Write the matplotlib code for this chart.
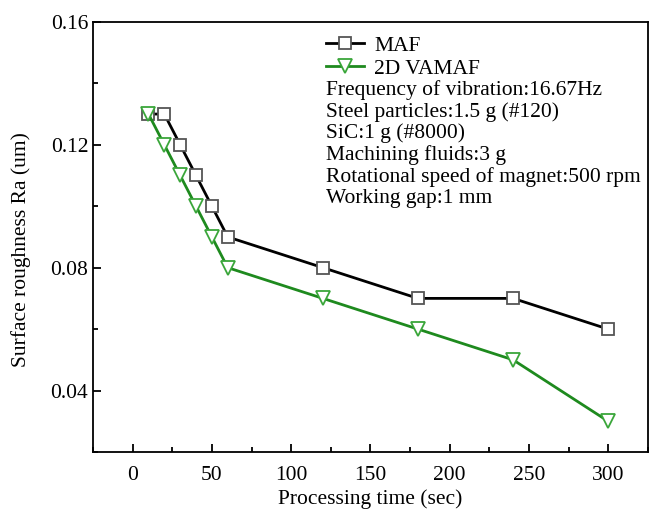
import matplotlib

matplotlib.use("Agg")
import matplotlib.pyplot as plt
from matplotlib.ticker import MultipleLocator

time_sec = [10, 20, 30, 40, 50, 60, 120, 180, 240, 300]
ra_maf = [0.13, 0.13, 0.12, 0.11, 0.10, 0.09, 0.08, 0.07, 0.07, 0.06]
ra_vamaf = [0.13, 0.12, 0.11, 0.10, 0.09, 0.08, 0.07, 0.06, 0.05, 0.03]
conditions = [
    "Frequency of vibration:16.67Hz",
    "Steel particles:1.5 g (#120)",
    "SiC:1 g (#8000)",
    "Machining fluids:3 g",
    "Rotational speed of magnet:500 rpm",
    "Working gap:1 mm",
]

plt.rcParams["font.family"] = ["Liberation Serif", "DejaVu Serif"]
plt.rcParams["font.size"] = 15.5

fig = plt.figure(figsize=(6.55, 5.09), dpi=100)
ax = fig.add_axes([0.142, 0.112, 0.847, 0.845])

ax.plot(time_sec, ra_maf, color="black", lw=2, marker="s", ms=9,
        mfc="white", mec="#555555", mew=1.3, label="MAF")
ax.plot(time_sec, ra_vamaf, color="#1e8a1e", lw=2, marker="v", ms=10,
        mfc="white", mec="#3aa63a", mew=1.3, label="2D VAMAF")

ax.set_xlim(-25, 325)
ax.set_ylim(0.02, 0.16)
ax.xaxis.set_major_locator(MultipleLocator(50))
ax.xaxis.set_minor_locator(MultipleLocator(25))
ax.set_yticks([0.04, 0.08, 0.12, 0.16])
ax.yaxis.set_minor_locator(MultipleLocator(0.02))
ax.tick_params(which="both", direction="in", top=False, right=False)
ax.tick_params(which="major", length=6, width=1.3, labelsize=15.5)
ax.tick_params(axis="x", which="major", pad=10)
ax.tick_params(which="minor", length=3.5, width=1.3)
for spine in ax.spines.values():
    spine.set_linewidth(1.3)

ax.set_xlabel("Processing time (sec)", fontsize=15.5, labelpad=3)
ax.set_ylabel("Surface roughness Ra (um)", fontsize=15.5)
ax.yaxis.set_label_coords(-0.112, 0.47)

ax.legend(loc="upper left", bbox_to_anchor=(0.42, 0.968), frameon=False,
          handlelength=1.75, handletextpad=0.5, labelspacing=0.15,
          borderpad=0, borderaxespad=0, fontsize=15.5)
ax.text(0.42, 0.865, "\n".join(conditions), transform=ax.transAxes,
        va="top", ha="left", fontsize=15.5, linespacing=1.13)

fig.savefig("out.png", dpi=100)
